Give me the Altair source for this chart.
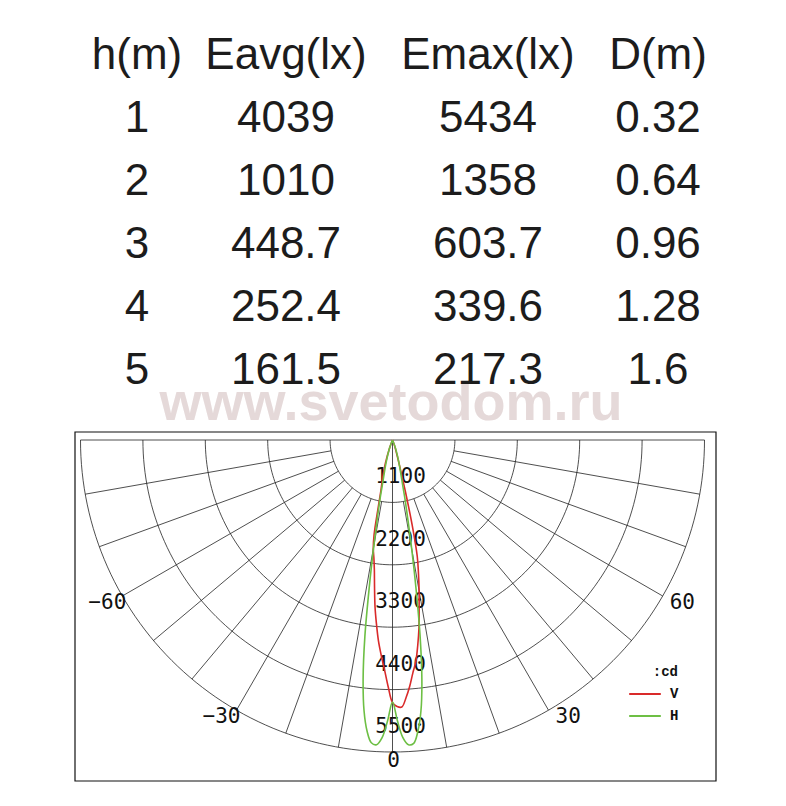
import altair as alt
import pandas as pd
import numpy as np

# ---------------- data ----------------
headers = ["h(m)", "Eavg(lx)", "Emax(lx)", "D(m)"]
heights = ["1", "2", "3", "4", "5"]
eavg = ["4039", "1010", "448.7", "252.4", "161.5"]
emax = ["5434", "1358", "603.7", "339.6", "217.3"]
dist = ["0.32", "0.64", "0.96", "1.28", "1.6"]
watermark = "www.svetodom.ru"

ring_values = [1100, 2200, 3300, 4400, 5500]
spoke_angles = list(range(-90, 91, 10))
angle_labels = [-60, -30, 0, 30, 60]

series_names = ["V", "H"]
unit_title = ":cd"

v_angles = [-25, -20, -17, -15, -13, -12, -11, -10, -9, -8, -7, -6, -5, -4, -3, -2, -1,
            0, 1, 2, 3, 4, 5, 6, 7, 8, 9, 10, 11, 12, 13, 14, 15, 17, 20, 25]
v_cd = [0, 150, 420, 650, 900, 1200, 1700, 1950, 2100, 2300, 2600, 2950, 3250, 3550, 3800, 4050, 4350,
        4630, 4700, 4710, 4550, 4350, 4120, 3930, 3650, 3350, 3000, 2700, 2400, 2100, 1550, 950, 550, 250, 100, 0]

h_angles = [-25, -20, -16, -14, -13, -12, -11, -10, -9, -8, -7, -6, -5, -4, -3, -2, -1,
            0, 1, 2, 3, 4, 5, 6, 7, 8, 9, 10, 11, 12, 13, 14, 16, 20, 25]
h_cd = [0, 150, 400, 600, 750, 1050, 1400, 1900, 2600, 3500, 4250, 4800, 5150, 5350, 5380, 5250, 4950,
        4620, 4950, 5250, 5380, 5360, 5150, 4800, 4250, 3500, 2650, 1950, 1400, 1050, 750, 600, 400, 150, 0]

# ---------------- layout ----------------
W, H = 770, 790
CX, CY, RPX, RMAX = 392.5, 440.0, 312.0, 5500.0
K = RPX / RMAX
col_x = [137, 286, 488, 658]
row_base, row_step = 69, 63

xs = alt.Scale(domain=[8, 8 + W], nice=False, zero=False)
ys = alt.Scale(domain=[8, 8 + H], nice=False, zero=False, reverse=True)

def X(f):
    return alt.X(f, type="quantitative", scale=xs, axis=None)

def Y(f):
    return alt.Y(f, type="quantitative", scale=ys, axis=None)

px_expr = f"{CX} + datum.cd * {K} * sin(datum.ang * PI / 180)"
py_expr = f"{CY} + datum.cd * {K} * cos(datum.ang * PI / 180)"

# ---- table ----
rows = []
for c, h in enumerate(headers):
    rows.append({"px": col_x[c], "py": row_base, "txt": h})
for r in range(5):
    for c, col in enumerate([heights, eavg, emax, dist]):
        rows.append({"px": col_x[c], "py": row_base + row_step * (r + 1), "txt": col[r]})
table_df = pd.DataFrame(rows)

table = alt.Chart(table_df).mark_text(
    font="Liberation Sans", fontSize=44, baseline="alphabetic", align="center", color="#1c1c1c"
).encode(x=X("px"), y=Y("py"), text="txt:N")

wm = alt.Chart(pd.DataFrame({"px": [391], "py": [420], "txt": [watermark]})).mark_text(
    font="Liberation Sans", fontSize=54, fontWeight="bold", baseline="alphabetic",
    align="center", color="#e5d9d9"
).encode(x=X("px"), y=Y("py"), text="txt:N")

# ---- frame ----
frame = alt.Chart(pd.DataFrame({"a": [0]})).mark_rect(
    fillOpacity=0, stroke="#111111", strokeWidth=1.2
).encode(x=alt.value(75 - 8), x2=alt.value(716 - 8), y=alt.value(432 - 8), y2=alt.value(781 - 8))

# ---- rings ----
samp = np.arange(-90, 90.5, 1.5)
ring_df = pd.DataFrame([{"ring": rv, "ang": a, "cd": rv} for rv in ring_values for a in samp])
rings = alt.Chart(ring_df).transform_calculate(px=px_expr, py=py_expr).mark_line(
    color="#222222", strokeWidth=0.8
).encode(x=X("px"), y=Y("py"), detail="ring:N", order="ang:Q")

# ---- spokes ----
spoke_df = pd.DataFrame({
    "ang": spoke_angles,
    "r0": [0 if a in (0, 90, -90) else ring_values[0] for a in spoke_angles],
    "r1": [ring_values[-1]] * len(spoke_angles),
})
spokes = alt.Chart(spoke_df).transform_calculate(
    x0=f"{CX} + datum.r0 * {K} * sin(datum.ang * PI / 180)",
    y0=f"{CY} + datum.r0 * {K} * cos(datum.ang * PI / 180)",
    x1=f"{CX} + datum.r1 * {K} * sin(datum.ang * PI / 180)",
    y1=f"{CY} + datum.r1 * {K} * cos(datum.ang * PI / 180)",
).mark_rule(color="#222222", strokeWidth=0.8).encode(
    x=X("x0"), y=Y("y0"), x2="x1:Q", y2="y1:Q"
)

# ---- curves ----
curve_df = pd.concat([
    pd.DataFrame({"series": series_names[0], "ang": v_angles, "cd": v_cd}),
    pd.DataFrame({"series": series_names[1], "ang": h_angles, "cd": h_cd}),
])
curves = alt.Chart(curve_df).transform_calculate(px=px_expr, py=py_expr).mark_line(
    strokeWidth=1.6, interpolate="catmull-rom"
).encode(
    x=X("px"), y=Y("py"), order="ang:Q",
    color=alt.Color("series:N", scale=alt.Scale(domain=series_names, range=["#d92a2a", "#6dbf44"]),
                    legend=alt.Legend(
                        title=unit_title, orient="none", legendX=620, legendY=657,
                        symbolType="stroke", symbolStrokeWidth=2, symbolSize=1000,
                        clipHeight=16, rowPadding=6, titleAnchor="end",
                        titleFont="Liberation Mono", titleFontSize=14, titleFontWeight="bold",
                        titleColor="#111111", titlePadding=7,
                        labelFont="Liberation Mono", labelFontSize=14, labelFontWeight="bold",
                        labelColor="#111111", labelOffset=8)),
)

# ---- labels ----
ringlab = alt.Chart(pd.DataFrame({"cd": ring_values, "ang": [0] * len(ring_values)})).transform_calculate(
    px=px_expr, py=py_expr, txt="format(datum.cd, 'd')"
).mark_text(font="DejaVu Sans Mono", fontSize=21, align="center", baseline="middle",
            dx=8, dy=-25, color="#111111").encode(x=X("px"), y=Y("py"), text="txt:N")

alab_df = pd.DataFrame({"ang": angle_labels, "cd": [ring_values[-1]] * len(angle_labels)})
alab_base = alt.Chart(alab_df).transform_calculate(px=px_expr, py=py_expr, txt="format(datum.ang, 'd')")
lab_pos = alab_base.transform_filter("datum.ang > 0").mark_text(
    font="DejaVu Sans Mono", fontSize=21, align="left", baseline="middle", dx=7, dy=7, color="#111111"
).encode(x=X("px"), y=Y("py"), text="txt:N")
lab_neg = alab_base.transform_filter("datum.ang < 0").mark_text(
    font="DejaVu Sans Mono", fontSize=21, align="right", baseline="middle", dx=4, dy=7, color="#111111"
).encode(x=X("px"), y=Y("py"), text="txt:N")
lab_zero = alab_base.transform_filter("datum.ang == 0").mark_text(
    font="DejaVu Sans Mono", fontSize=21, align="center", baseline="middle", dx=1, dy=9, color="#111111"
).encode(x=X("px"), y=Y("py"), text="txt:N")

chart = alt.layer(
    wm, table, frame, rings, spokes, ringlab, lab_pos, lab_neg, lab_zero, curves
).properties(width=W, height=H, padding=0, background="white").configure_view(stroke=None)

chart.save("out.html", embed_options={"renderer": "svg", "actions": False})
